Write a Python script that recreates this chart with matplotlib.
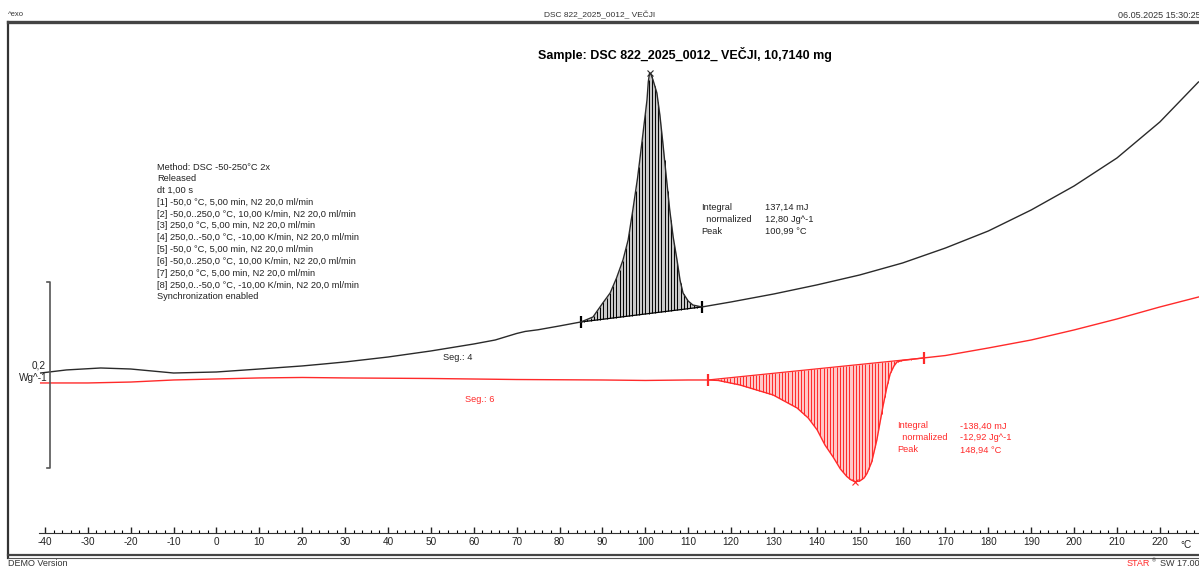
import numpy as np
import matplotlib.pyplot as plt
from matplotlib.lines import Line2D

plt.rcParams['font.family'] = ['Liberation Sans', 'DejaVu Sans']
plt.rcParams['axes.unicode_minus'] = False

W, H = 1199, 568

# segment 4 (cooling, exo up), temperature in degC, heat flow in W/g
t_seg4 = [-41, -35, -27, -20, -10, 0, 10, 20, 25, 30, 40, 50, 60, 65, 70, 72, 75, 80, 85,
          87.8, 90.1, 91.8, 93.3, 94.8, 96.0, 97.1, 98.2, 99.2, 100.4, 100.7, 101.0, 101.3,
          101.8, 102.7, 103.4, 104.1, 104.9, 105.7, 106.5, 107.4, 108.1, 108.8, 110.0,
          111.1, 113.2,
          120, 130, 140, 150, 160, 170, 180, 190, 200, 210, 220, 229]
hf_seg4 = [0.0075, 0.0108, 0.0129, 0.0118, 0.0075, 0.0086, 0.0118, 0.0151, 0.0172, 0.0194,
           0.0247, 0.0312, 0.0387, 0.0430, 0.0500, 0.0522, 0.0540, 0.0581, 0.0624,
           0.0677, 0.0828, 0.0935, 0.1097, 0.1290, 0.1505, 0.1828, 0.2172, 0.2548, 0.3011,
           0.3204, 0.3301, 0.3290, 0.3226, 0.3086, 0.2849, 0.2548, 0.2183, 0.1828, 0.1538,
           0.1290, 0.1075, 0.0935, 0.0849, 0.0806, 0.0785,
           0.0839, 0.0925, 0.1022, 0.1129, 0.1258, 0.1419, 0.1602, 0.1828, 0.2086,
           0.2387, 0.2774, 0.3204]

# segment 6 (second heating)
t_seg6 = [-41, -30, -20, -10, 0, 10, 20, 30, 50, 70, 90, 100, 110, 114.6, 117,
          122.1, 129.8, 135.4, 138.0, 140.1, 141.9, 143.8, 145.5, 147.0, 148.0, 148.94,
          150.0, 151.0, 151.7, 152.8, 154.0, 155.4, 156.3, 157.1, 158.0, 158.7, 160.0,
          164.9, 170, 180, 190, 200, 210, 220, 229]
hf_seg6 = [-0.0032, -0.0032, -0.0022, 0.0, 0.0011, 0.0022, 0.0027, 0.0022, 0.0016, 0.0005,
           0.0, -0.0005, 0.0, 0.0, -0.0005,
           -0.0054, -0.0161, -0.0301, -0.0409, -0.0538, -0.0699, -0.0828, -0.0957, -0.1038,
           -0.1075, -0.1094, -0.1086, -0.1054, -0.1005, -0.0882, -0.0645, -0.0290, -0.0086,
           0.0065, 0.0151, 0.0194, 0.0210,
           0.0237, 0.0263, 0.0344, 0.0430, 0.0538, 0.0656, 0.0785, 0.0892]

# integration limits and peak temperatures
lim_seg4 = (85.0, 113.2)
lim_seg6 = (114.6, 164.9)
peak_seg4 = 100.99
peak_seg6 = 148.94

method_lines = [
    'Method: DSC -50-250°C 2x',
    'Released',
    'dt 1,00 s',
    '[1] -50,0 °C, 5,00 min, N2 20,0 ml/min',
    '[2] -50,0..250,0 °C, 10,00 K/min, N2 20,0 ml/min',
    '[3] 250,0 °C, 5,00 min, N2 20,0 ml/min',
    '[4] 250,0..-50,0 °C, -10,00 K/min, N2 20,0 ml/min',
    '[5] -50,0 °C, 5,00 min, N2 20,0 ml/min',
    '[6] -50,0..250,0 °C, 10,00 K/min, N2 20,0 ml/min',
    '[7] 250,0 °C, 5,00 min, N2 20,0 ml/min',
    '[8] 250,0..-50,0 °C, -10,00 K/min, N2 20,0 ml/min',
    'Synchronization enabled',
]
res_labels = ['Integral', '  normalized', 'Peak']
res_seg4 = ['137,14 mJ', '12,80 Jg^-1', '100,99 °C']
res_seg6 = ['-138,40 mJ', '-12,92 Jg^-1', '148,94 °C']

scale_bar = 0.2  # W/g

black = '#2a2a2a'
red = '#ff2a2a'
fs = 6.7


def px(x, y):
    return x / W, 1 - y / H


fig = plt.figure(figsize=(W / 100, H / 100), dpi=100)
ax = fig.add_axes([8 / W, (H - 558) / H, (W - 8) / W, (558 - 22) / H])
ax.set_xlim(-48.62, 229.13)
ax.set_ylim(-0.1914, 0.3849)


def integrate_area(t, hf, lim, color, fill, step):
    t = np.asarray(t)
    hf = np.asarray(hf)
    y0, y1 = np.interp(lim, t, hf)
    xs = np.linspace(lim[0], lim[1], 300)
    base = y0 + (y1 - y0) * (xs - lim[0]) / (lim[1] - lim[0])
    ax.fill_between(xs, base, np.interp(xs, t, hf), color=fill, lw=0)
    xs = np.arange(lim[0], lim[1], step)
    base = y0 + (y1 - y0) * (xs - lim[0]) / (lim[1] - lim[0])
    ax.vlines(xs, base, np.interp(xs, t, hf), color=color, lw=0.7)
    ax.plot(lim, (y0, y1), color=color, lw=0.9)
    ax.plot(lim, (y0, y1), ls='none', marker='|', ms=9, mew=1.6, color=color)


integrate_area(t_seg4, hf_seg4, lim_seg4, 'black', '#c8c8c8', 0.75)
integrate_area(t_seg6, hf_seg6, lim_seg6, red, '#ffc8c8', 0.75)
ax.plot(t_seg4, hf_seg4, color=black, lw=1.0)
ax.plot(t_seg6, hf_seg6, color=red, lw=1.0)
ax.plot(peak_seg4, np.interp(peak_seg4, t_seg4, hf_seg4), 'x', color=black, ms=4, mew=0.8)
ax.plot(peak_seg6, np.interp(peak_seg6, t_seg6, hf_seg6), 'x', color=red, ms=4, mew=0.8)

# scale bar
sb_x, sb_top = -38.83, 0.1054
ax.plot([-39.5, sb_x, sb_x, -39.5], [sb_top, sb_top, sb_top - scale_bar, sb_top - scale_bar],
        color='#555555', lw=1.2)

# temperature axis
ax.spines['right'].set_visible(False)
ax.spines['bottom'].set_position(('data', -0.1645))
ax.spines['bottom'].set_bounds(-41.5, 229)
ax.spines['bottom'].set_color('#333333')
ax.spines['left'].set_linewidth(1.6)
ax.spines['left'].set_color('#333333')
ax.spines['top'].set_linewidth(2.4)
ax.spines['top'].set_color('#444444')
ax.set_xticks(np.arange(-40, 230, 10))
ax.set_xticks(np.arange(-40, 229, 2), minor=True)
ax.tick_params(axis='x', which='major', direction='in', length=4, width=1, pad=3,
               labelsize=7.2, colors='#222222')
ax.tick_params(axis='x', which='minor', direction='in', length=2.5, width=0.8)
ax.set_yticks([])
fig.text(*px(1180, 545), '°C', fontsize=7.2, va='center', ha='left', color='#222222')

# bottom frame
fig.add_artist(Line2D([8 / W, 1], [1 - 555 / H] * 2, color='#444444', lw=1.6))
fig.add_artist(Line2D([8 / W, 1], [1 - 558 / H] * 2, color='#555555', lw=0.8))

# header / footer
fig.text(*px(8, 15), '^exo', fontsize=5.5, va='center', color='#333333')
fig.text(*px(600, 15), 'DSC 822_2025_0012_ VEČJI', fontsize=6, ha='center', va='center',
         color='#333333')
fig.text(*px(1118, 15), '06.05.2025 15:30:25', fontsize=6.5, va='center', color='#333333')
fig.text(*px(8, 564), 'DEMO Version', fontsize=6.5, va='center', color='#333333')
fig.text(*px(1127, 564), 'STAR', fontsize=6.5, va='center', color=red)
fig.text(*px(1152, 561), '®', fontsize=4, va='center', color='#333333')
fig.text(*px(1160, 564), 'SW 17.00', fontsize=6.5, va='center', color='#333333')
fig.text(*px(685, 54), 'Sample: DSC 822_2025_0012_ VEČJI, 10,7140 mg', fontsize=9,
         fontweight='bold', ha='center', va='center', color='black')

for i, line in enumerate(method_lines):
    fig.text(*px(157, 167 + i * 11.8), line, fontsize=fs, va='center', color='#222222')

for i in range(3):
    fig.text(*px(701, 207 + i * 12), res_labels[i], fontsize=fs, va='center', color='#222222')
    fig.text(*px(765, 207 + i * 12), res_seg4[i], fontsize=fs, va='center', color='#222222')
    fig.text(*px(897, 426 + i * 12), res_labels[i], fontsize=fs, va='center', color=red)
    fig.text(*px(960, 426 + i * 12), res_seg6[i], fontsize=fs, va='center', color=red)

fig.text(*px(443, 357), 'Seg.: 4', fontsize=fs, va='center', color='#222222')
fig.text(*px(465, 400), 'Seg.: 6', fontsize=fs, va='center', color=red)
fig.text(*px(46, 366), '0,2', fontsize=7.2, va='center', ha='right', color='#222222')
fig.text(*px(48, 378), 'Wg^-1', fontsize=7.2, va='center', ha='right', color='#222222')

fig.savefig('out.png', dpi=100)
